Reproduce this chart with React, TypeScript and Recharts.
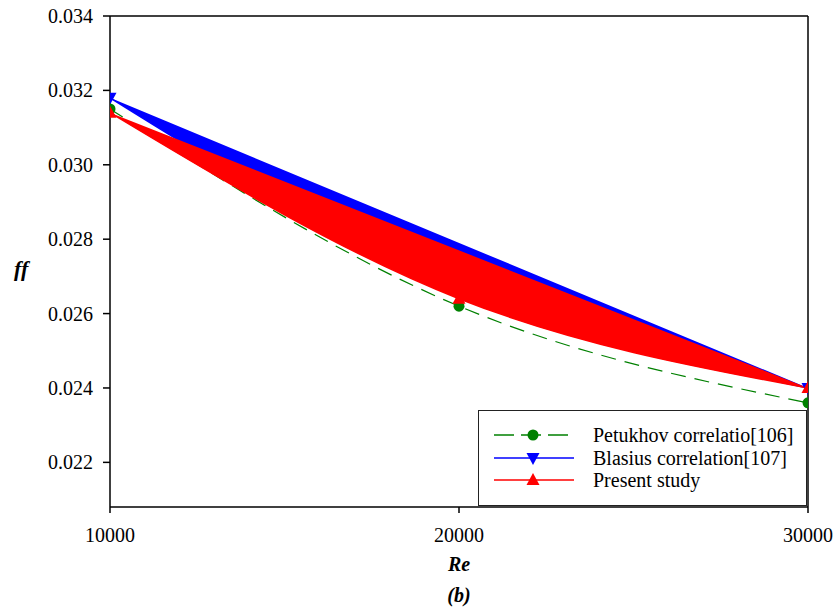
import React from 'react';
import { ComposedChart, Line, XAxis, YAxis, ReferenceLine } from 'recharts';

const reynolds = [10000, 20000, 30000];
const petukhov = [0.0315, 0.0262, 0.0236];
const blasius = [0.0318, 0.0266, 0.024];
const present = [0.0314, 0.0264, 0.024];
const yTicks = [0.022, 0.024, 0.026, 0.028, 0.03, 0.032, 0.034];
const xTicks = [10000, 20000, 30000];
const seriesNames = ['Petukhov correlatio[106]', 'Blasius correlation[107]', 'Present study'];

const data = reynolds.map((re, i) => ({
  re,
  petukhov: petukhov[i],
  blasius: blasius[i],
  present: present[i],
}));

const FONT = 'Liberation Serif, DejaVu Serif, Times New Roman, serif';
const GREEN = '#008000';
const BLUE = '#0000ff';
const RED = '#ff0000';

const GreenDot = (props: any) => {
  const { cx, cy, index } = props;
  return <circle key={`g${index}`} cx={cx} cy={cy} r={5.5} fill={GREEN} />;
};

// the middle Blasius marker sits under the red fill in the original
const BlueDot = (props: any) => {
  const { cx, cy, index } = props;
  if (index === 1) return <g key={`b${index}`} />;
  return (
    <polygon
      key={`b${index}`}
      points={`${cx - 6.5},${cy - 5} ${cx + 6.5},${cy - 5} ${cx},${cy + 7}`}
      fill={BLUE}
    />
  );
};

const RedDot = (props: any) => {
  const { cx, cy, index } = props;
  return (
    <polygon
      key={`r${index}`}
      points={`${cx},${cy - 7} ${cx - 6.5},${cy + 5} ${cx + 6.5},${cy + 5}`}
      fill={RED}
    />
  );
};

function LegendBox() {
  const rows = [
    { name: seriesNames[0], color: GREEN, dashed: true, marker: 'circle' },
    { name: seriesNames[1], color: BLUE, dashed: false, marker: 'down' },
    { name: seriesNames[2], color: RED, dashed: false, marker: 'up' },
  ];
  return (
    <div
      style={{
        position: 'absolute',
        left: 478,
        top: 410,
        width: 329,
        height: 96,
        boxSizing: 'border-box',
        border: '1.5px solid #222',
        background: '#fff',
        fontFamily: FONT,
        fontSize: 20,
      }}
    >
      {rows.map((r, i) => {
        const cy = 24 + i * 22.5;
        return (
          <React.Fragment key={r.name}>
            <svg
              width={90}
              height={20}
              style={{ position: 'absolute', left: 13, top: cy - 10 }}
            >
              <line
                x1={2}
                y1={10}
                x2={82}
                y2={10}
                stroke={r.color}
                strokeWidth={1.5}
                strokeDasharray={r.dashed ? '20 7' : undefined}
              />
              {r.marker === 'circle' && <circle cx={41} cy={10} r={5.5} fill={r.color} />}
              {r.marker === 'down' && (
                <polygon points="34.5,5 47.5,5 41,17" fill={r.color} />
              )}
              {r.marker === 'up' && <polygon points="41,3 34.5,15 47.5,15" fill={r.color} />}
            </svg>
            <div
              style={{
                position: 'absolute',
                left: 114,
                top: cy - 12,
                lineHeight: '24px',
                whiteSpace: 'nowrap',
                color: '#000',
              }}
            >
              {r.name}
            </div>
          </React.Fragment>
        );
      })}
    </div>
  );
}

export default function App() {
  const tickStyle = { fill: '#000', fontSize: 20, fontFamily: FONT };
  const labelStyle: React.CSSProperties = {
    position: 'absolute',
    fontFamily: FONT,
    fontSize: 20,
    fontWeight: 'bold',
    fontStyle: 'italic',
  };
  return (
    <div style={{ position: 'relative', width: 838, height: 613, background: '#fff' }}>
      <style>{`
        body { margin: 0; }
        .blasius-fill .recharts-line-curve { fill: ${BLUE}; }
        .present-fill .recharts-line-curve { fill: ${RED}; }
      `}</style>
      <ComposedChart
        width={838}
        height={613}
        data={data}
        margin={{ top: 16, right: 30, bottom: 66, left: 0 }}
      >
        <XAxis
          dataKey="re"
          type="number"
          domain={[10000, 30000]}
          ticks={xTicks}
          height={40}
          tickSize={6}
          tickMargin={15}
          tick={tickStyle}
          axisLine={{ stroke: '#000', strokeWidth: 1.5 }}
          tickLine={{ stroke: '#000', strokeWidth: 1.5 }}
          allowDataOverflow
        />
        <YAxis
          type="number"
          domain={[0.0208, 0.034]}
          ticks={yTicks}
          width={110}
          tickSize={7}
          tickMargin={10}
          tick={tickStyle}
          tickFormatter={(v: number) => v.toFixed(3)}
          axisLine={{ stroke: '#000', strokeWidth: 1.5 }}
          tickLine={{ stroke: '#000', strokeWidth: 1.5 }}
          allowDataOverflow
        />
        <ReferenceLine y={0.034} stroke="#000" strokeWidth={1.5} />
        <ReferenceLine x={30000} stroke="#000" strokeWidth={1.5} />
        <Line
          className="blasius-fill"
          dataKey="blasius"
          type="natural"
          stroke={BLUE}
          strokeWidth={1.5}
          dot={BlueDot}
          activeDot={false}
          isAnimationActive={false}
        />
        <Line
          dataKey="petukhov"
          type="natural"
          stroke={GREEN}
          strokeWidth={1.2}
          strokeDasharray="15 9"
          dot={GreenDot}
          activeDot={false}
          isAnimationActive={false}
        />
        <Line
          className="present-fill"
          dataKey="present"
          type="natural"
          stroke={RED}
          strokeWidth={1.5}
          dot={RedDot}
          activeDot={false}
          isAnimationActive={false}
        />
      </ComposedChart>
      <div style={{ ...labelStyle, left: 14, top: 256, fontSize: 22 }}>ff</div>
      <div style={{ ...labelStyle, left: 409, width: 100, textAlign: 'center', top: 553 }}>Re</div>
      <div style={{ ...labelStyle, left: 409, width: 100, textAlign: 'center', top: 584 }}>(b)</div>
      <LegendBox />
    </div>
  );
}
